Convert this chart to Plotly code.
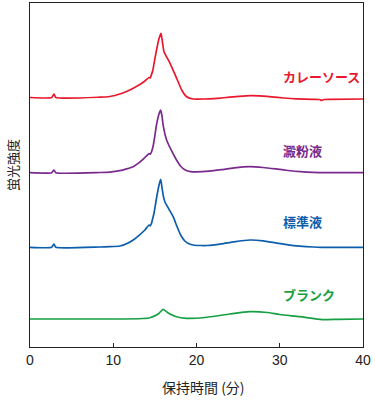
import plotly.graph_objects as go

# Retention time (min) and fluorescence signal above each trace's baseline (arbitrary units)
red_t = [0, 2.6, 2.88, 3.1, 8.4, 9.6, 10.2, 10.8, 11.6, 12.4, 13.1, 13.8, 14.3, 14.45, 14.55, 14.75, 14.9,
         15.2, 15.5, 15.74, 15.9, 16.1, 16.82, 17.62, 18.22, 18.82, 19.6, 21, 22.5, 24, 25.5, 26.5, 27.5,
         29, 30.5, 32, 34, 34.8, 35.0, 35.3, 36, 40]
red_v = [0, 0, 3.5, 0, 0.3, 1, 2, 3.5, 6, 9.2, 12.5, 16.5, 20, 19.5, 22, 27, 34,
         47.5, 59, 64.2, 56, 45.8, 34.2, 19.2, 7.5, 0.8, -1.5, -1.5, -0.8, 0.3, 1.4, 1.8, 1.6,
         0.6, -0.5, -1.3, -1.8, -2, -3, -2, -1.8, -1.5]

purple_t = [0, 2.6, 2.88, 3.1, 8.4, 9.6, 10.8, 11.6, 12.4, 13.1, 13.9, 14.3, 14.45, 14.6, 14.8, 15.0,
            15.2, 15.5, 15.7, 15.85, 16.0, 16.4, 17.0, 17.6, 18.1, 18.6, 19.3, 20, 21.5, 23, 24.5,
            26.4, 28, 29.5, 31, 32.5, 34, 36, 40]
purple_v = [0, 0, 2.7, 0, 0.2, 0.6, 2, 3.8, 6, 10, 16, 19, 18.5, 21, 27, 37,
            48, 59, 62.7, 57, 47, 33, 22, 12.7, 6.5, 3, 1, 0.8, 1.5, 3, 4.8,
            6, 5.2, 3.8, 2.2, 1, 0.3, 0, 0]

blue_t = [0, 2.6, 2.88, 3.1, 8.4, 9.6, 10.8, 11.6, 12.4, 13.1, 13.8, 14.3, 14.45, 14.6, 14.75, 14.9,
          15.2, 15.5, 15.7, 15.85, 16.0, 16.2, 16.7, 17.2, 17.6, 18.0, 18.3, 18.6, 19.1, 19.6, 20.5,
          21.3, 23, 24.5, 26.4, 28, 29.5, 31, 32.4, 34, 35, 40]
blue_v = [0, 0, 3.3, 0, 0.3, 0.6, 1.3, 3.5, 7.3, 12, 17.3, 22.3, 21.5, 24, 29, 34.3,
          49.3, 62.3, 68, 60, 52, 45.6, 38, 30.6, 22, 14, 9.5, 6.3, 3.5, 2.3, 1.8,
          1.8, 3.5, 5.5, 7.3, 6.5, 4.5, 2.5, 1.2, 0.3, 0, 0]

green_t = [0, 10, 13.5, 14.4, 15.4, 16.0, 16.6, 17.5, 18.8, 21, 24, 26.4, 28.5, 30, 32.4, 35.1, 37, 40]
green_v = [0, 0, 0.5, 1.3, 5, 9.7, 6, 2.5, 0.7, 1.5, 5, 7.3, 6.5, 4.5, 2.3, -0.6, -0.3, 0]

series_names = ["カレーソース", "澱粉液", "標準液", "ブランク"]
baselines = [249.5, 174.3, 99.7, 28]
label_y = [270.3, 197, 125.3, 53]
colors = ["#E8192C", "#7A2A8C", "#0C5EAD", "#17A043"]

x_ticks = [0, 10, 20, 30, 40]

fig = go.Figure()
for t, v, base, col, name in zip([red_t, purple_t, blue_t, green_t],
                                 [red_v, purple_v, blue_v, green_v],
                                 baselines, colors, series_names):
    fig.add_trace(go.Scatter(x=t, y=[base + s for s in v], mode="lines",
                             line=dict(color=col, width=1.7, shape="spline", smoothing=0.5),
                             name=name, showlegend=False, hoverinfo="skip"))

for name, yl, col in zip(series_names, label_y, colors):
    fig.add_annotation(x=30.15, y=yl, xref="x", yref="y", text="<b>" + name + "</b>",
                       showarrow=False, xanchor="left", yanchor="middle",
                       font=dict(family="Noto Sans CJK JP", size=13, color=col))

fig.add_annotation(x=-0.054, y=0.529, xref="paper", yref="paper", text="蛍光強度",
                   textangle=-90, showarrow=False, xanchor="center", yanchor="middle",
                   font=dict(family="Noto Sans CJK JP", size=13, color="#222"))
fig.add_annotation(x=0.52, y=-0.115, xref="paper", yref="paper", text="保持時間 (分)",
                   showarrow=False, xanchor="center", yanchor="middle",
                   font=dict(family="Noto Sans CJK JP", size=14, color="#222"))

fig.update_layout(
    width=375, height=400,
    margin=dict(l=30, r=12, t=3, b=53),
    paper_bgcolor="white", plot_bgcolor="white",
    xaxis=dict(range=[0, 40], tickvals=x_ticks, ticks="inside", ticklen=4, tickcolor="#222",
               showline=True, linecolor="#222", linewidth=1, mirror=True, showgrid=False,
               zeroline=False, tickfont=dict(family="Liberation Sans", size=14, color="#222")),
    yaxis=dict(range=[0, 344], showticklabels=False, ticks="", showline=True, linecolor="#222",
               linewidth=1, mirror=True, showgrid=False, zeroline=False),
)

fig.write_html("out.html", config={"displayModeBar": False},
               post_script="document.body.style.margin='0';")
